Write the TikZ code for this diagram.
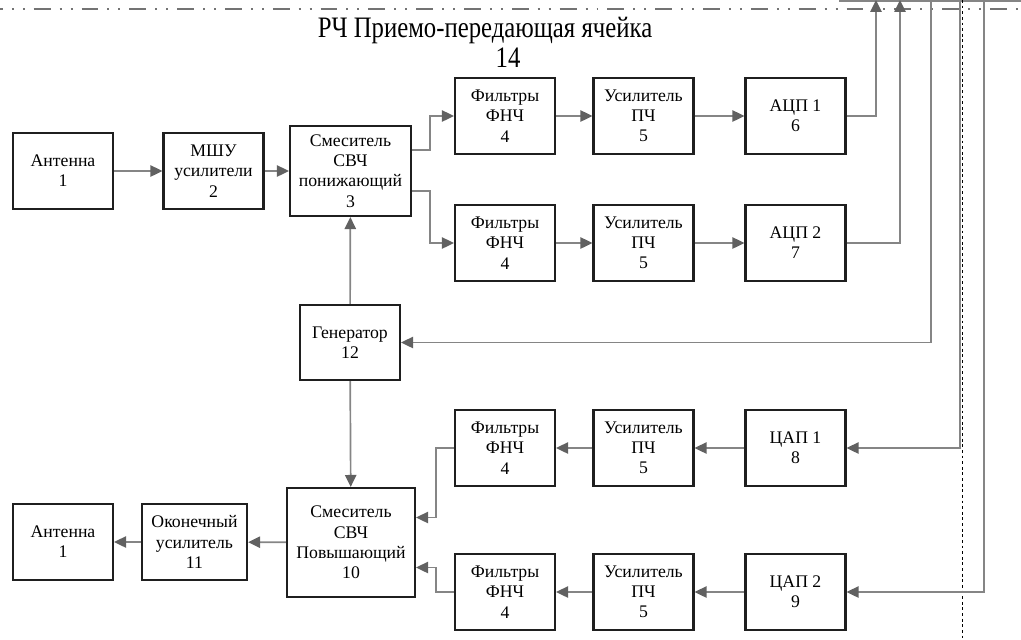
\documentclass[tikz,border=0pt]{standalone}
\usepackage{fontspec}
\setmainfont{Liberation Serif}
\usetikzlibrary{calc}
\usetikzlibrary{arrows.meta}

\begin{document}
\begin{tikzpicture}[x=0.025cm,y=-0.025cm,
  blk/.style={draw=boxcolor,line width=1.5pt,fill=white,align=center,inner sep=1pt,
    font=\fontsize{12.6}{14.4}\selectfont,minimum width=2.5cm,minimum height=1.9cm},
  link/.style={draw=linkcolor,line width=1.2pt},
  arr/.style={link,-{Triangle[length=8.5pt,width=8pt,color=tipcolor]}}]

\colorlet{boxcolor}{black!88}
\colorlet{linkcolor}{black!48}
\colorlet{tipcolor}{black!62}
\colorlet{framecolor}{black!55}

\useasboundingbox (0,0) rectangle (1021,639);

\def\rowA{116}
\def\rowB{243}
\def\rowC{448}
\def\rowD{592}
\def\colF{505}
\def\colU{643.5}
\def\colA{795.5}

% DRAW THE CELL BORDER
\draw[framecolor,line width=1.4pt,dash pattern=on 12pt off 6.4pt on 1.4pt off 6.4pt on 1.4pt off 6.4pt,dash phase=10pt] (0,9) -- (1021,9);
\draw[linkcolor,line width=0.8pt] (839,1) -- (1021,1);
\draw[black,line width=0.7pt,dash pattern=on 2pt off 2pt] (962,0) -- (962,639);

\node[font=\fontsize{17.6}{21}\selectfont] (title) at (485,30) {\scalebox{1}[1.2]{РЧ Приемо-передающая ячейка}};
\node[font=\fontsize{17.6}{21}\selectfont] (titleNum) at (508,58) {\scalebox{1}[1.2]{14}};

% DRAW THE RECEIVE PATH
\node[blk] (antA) at (63,171) {Антенна\\1};
\node[blk] (lna) at (213.5,171) {МШУ\\усилители\\2};
\node[blk,minimum width=3.025cm,minimum height=2.25cm] (mixD) at (350.5,171) {Смеситель\\СВЧ\\понижающий\\3};

\node[blk] (filtA) at (\colF,\rowA) {Фильтры\\ФНЧ\\4};
\node[blk] (ampA) at (\colU,\rowA) {Усилитель\\ПЧ\\5};
\node[blk] (adcA) at (\colA,\rowA) {АЦП 1\\6};

\node[blk] (filtB) at (\colF,\rowB) {Фильтры\\ФНЧ\\4};
\node[blk] (ampB) at (\colU,\rowB) {Усилитель\\ПЧ\\5};
\node[blk] (adcB) at (\colA,\rowB) {АЦП 2\\7};

% DRAW THE GENERATOR
\node[blk,minimum height=1.875cm] (gen) at (350,342.5) {Генератор\\12};

% DRAW THE TRANSMIT PATH
\node[blk] (filtC) at (\colF,\rowC) {Фильтры\\ФНЧ\\4};
\node[blk] (ampC) at (\colU,\rowC) {Усилитель\\ПЧ\\5};
\node[blk] (dacA) at (\colA,\rowC) {ЦАП 1\\8};

\node[blk] (filtD) at (\colF,\rowD) {Фильтры\\ФНЧ\\4};
\node[blk] (ampD) at (\colU,\rowD) {Усилитель\\ПЧ\\5};
\node[blk] (dacB) at (\colA,\rowD) {ЦАП 2\\9};

\node[blk,minimum width=3.2cm,minimum height=2.725cm] (mixU) at (351,542.5) {Смеситель\\СВЧ\\Повышающий\\10};
\node[blk,minimum width=2.625cm] (pa) at (194.5,542) {Оконечный\\усилитель\\11};
\node[blk] (antB) at (63,542) {Антенна\\1};

% BUS ENDS AT THE TOP
\coordinate (outA) at (876,0);
\coordinate (outB) at (900,0);
\coordinate (inGen) at (931,0);
\coordinate (inDacA) at (960,0);
\coordinate (inDacB) at (984,0);

% DRAW THE CONNECTIONS
\draw[arr] (antA) -- (lna);
\draw[arr] (lna) -- (mixD);
\draw[arr] ($(mixD.east)+(0,-21)$) -- ++(18,0) |- (filtA.west);
\draw[arr] ($(mixD.east)+(0,20)$) -- ++(18,0) |- (filtB.west);
\draw[arr] (filtA) -- (ampA);
\draw[arr] (ampA) -- (adcA);
\draw[arr] (filtB) -- (ampB);
\draw[arr] (ampB) -- (adcB);
\draw[arr] (adcA.east) -| (outA);
\draw[arr] (adcB.east) -| (outB);

\draw[arr] (gen) -- (mixD);
\draw[arr] (inGen) |- (gen.east);
\draw[arr] (gen) -- (mixU);

\draw[arr] (inDacA) |- (dacA.east);
\draw[arr] (inDacB) |- (dacB.east);
\draw[arr] (dacA) -- (ampC);
\draw[arr] (ampC) -- (filtC);
\draw[arr] (dacB) -- (ampD);
\draw[arr] (ampD) -- (filtD);
\draw[arr] (filtC.west) -- ++(-18,0) |- ($(mixU.east)+(0,-25)$);
\draw[arr] (filtD.west) -- ++(-18,0) |- ($(mixU.east)+(0,25)$);
\draw[arr] (mixU) -- (pa);
\draw[arr] (pa) -- (antB);

\end{tikzpicture}
\end{document}
